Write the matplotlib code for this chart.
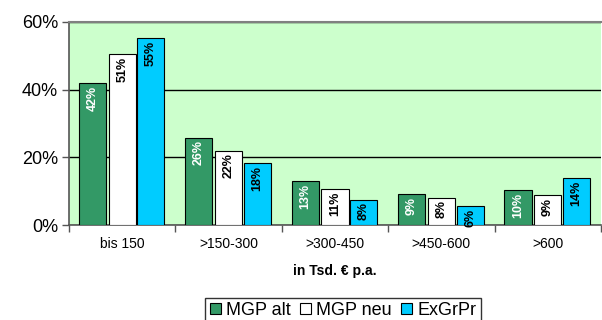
import matplotlib.pyplot as plt
import numpy as np
from matplotlib.ticker import FixedLocator, NullFormatter, FuncFormatter

plt.rcParams['font.family'] = ['Liberation Sans', 'DejaVu Sans']

categories = ["bis 150", ">150-300", ">300-450", ">450-600", ">600"]
series_names = ["MGP alt", "MGP neu", "ExGrPr"]
mgp_alt = [41.9, 25.8, 13.0, 9.1, 10.3]
mgp_neu = [50.5, 22.0, 10.7, 8.1, 8.9]
exgrpr = [55.2, 18.2, 7.5, 5.5, 13.8]
labels_alt = ["42%", "26%", "13%", "9%", "10%"]
labels_neu = ["51%", "22%", "11%", "8%", "9%"]
labels_ex = ["55%", "18%", "8%", "6%", "14%"]

colors = ["#339966", "#FFFFFF", "#00CCFF"]
text_colors = ["white", "black", "black"]

fig = plt.figure(figsize=(6.02, 3.2), dpi=100)
ax = fig.add_axes([69 / 602, 1 - 225 / 320, 532 / 602, 203 / 320])
ax.set_facecolor("#CCFFCC")

x = np.arange(len(categories))
offsets = [-0.28, 0.0, 0.27]
width = 0.255
all_vals = [mgp_alt, mgp_neu, exgrpr]
all_labels = [labels_alt, labels_neu, labels_ex]

for vals, labs, off, col, tcol, name in zip(all_vals, all_labels, offsets, colors, text_colors, series_names):
    bars = ax.bar(x + off, vals, width=width, color=col, edgecolor="black",
                  linewidth=0.8, label=name, zorder=3)
    for rect, lab in zip(bars, labs):
        ax.annotate(lab, xy=(rect.get_x() + rect.get_width() / 2, rect.get_height()),
                    xytext=(0, -2), textcoords="offset points",
                    ha="center", va="top", rotation=90, fontsize=9,
                    fontweight="bold", color=tcol, zorder=4)

ax.set_xlim(-0.5, len(categories) - 0.5)
ax.set_ylim(0, 60)
ax.set_yticks([0, 20, 40, 60])
ax.yaxis.set_major_formatter(FuncFormatter(lambda v, p: f"{int(v)}%"))
ax.yaxis.grid(True, color="black", linewidth=1.0, zorder=1)
ax.set_axisbelow(True)
ax.tick_params(axis="y", labelsize=13, length=5, width=1, color="#555555", pad=3)

ax.xaxis.set_major_locator(FixedLocator(np.arange(-0.5, len(categories))))
ax.xaxis.set_major_formatter(NullFormatter())
ax.xaxis.set_minor_locator(FixedLocator(x))
ax.set_xticklabels(categories, minor=True)
ax.tick_params(axis="x", which="major", length=5, width=1, color="#555555")
ax.tick_params(axis="x", which="minor", length=0, labelsize=10, pad=9)
ax.set_xlabel("in Tsd. € p.a.", fontsize=10, fontweight="bold", labelpad=9)

for side in ["left", "bottom"]:
    ax.spines[side].set_color("#555555")
    ax.spines[side].set_linewidth(1.2)
ax.spines["top"].set_color("#808080")
ax.spines["top"].set_linewidth(1.5)
ax.spines["right"].set_visible(False)

leg = fig.legend(loc="upper center", bbox_to_anchor=(343 / 602, 1 - 297.5 / 320), ncol=3,
                 fontsize=13, frameon=True, fancybox=False, handlelength=0.6,
                 handleheight=0.6, handletextpad=0.3, columnspacing=0.5,
                 borderpad=0.25, borderaxespad=0)
leg.get_frame().set_edgecolor("black")
leg.get_frame().set_linewidth(1.0)

fig.savefig("out.png", dpi=100)
